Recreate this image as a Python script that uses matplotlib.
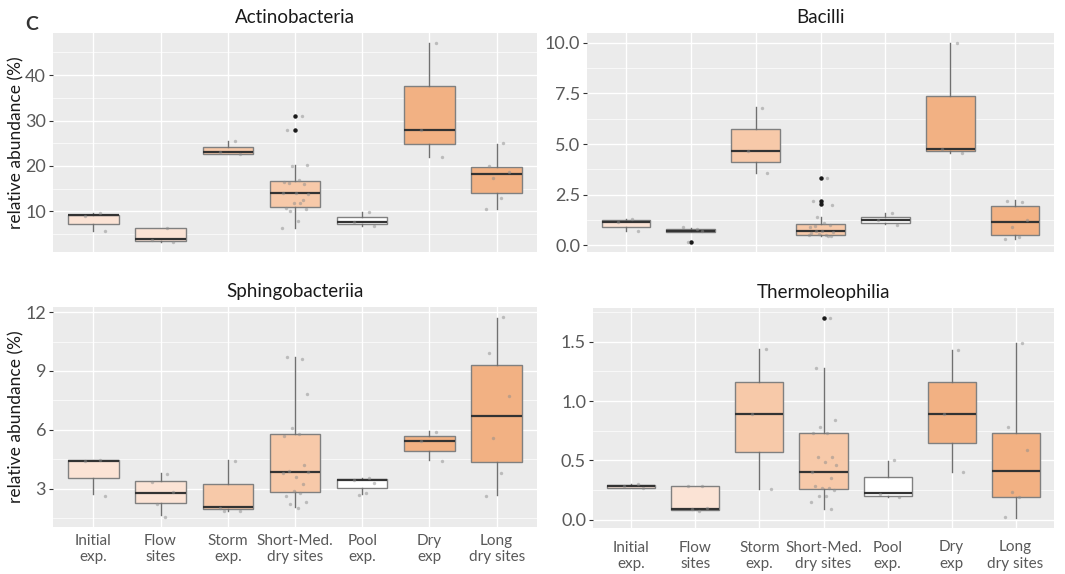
import numpy as np
import matplotlib
matplotlib.use("Agg")
import matplotlib.pyplot as plt
from matplotlib.ticker import MultipleLocator, FormatStrFormatter

plt.rcParams["font.family"] = ["Lato", "DejaVu Sans"]

CATEGORIES = ["Initial\nexp.", "Flow\nsites", "Storm\nexp.", "Short-Med.\ndry sites",
              "Pool\nexp.", "Dry\nexp", "Long\ndry sites"]
FILLS = ["#FBE3D5", "#FBE3D5", "#F7C9A9", "#F7C9A9", "#FFFFFF", "#F2B183", "#F2B183"]

# ---- Actinobacteria ----
ACTINO_LO = [5.7, 3.3, 22.7, 6.3, 6.8, 22.0, 10.5]
ACTINO_Q1 = [7.2, 3.5, 22.65, 11.0, 7.15, 24.85, 14.1]
ACTINO_MED = [9.1, 3.9, 23.1, 14.0, 7.7, 27.85, 18.1]
ACTINO_Q3 = [9.25, 6.25, 24.2, 16.7, 8.7, 37.5, 19.8]
ACTINO_HI = [9.6, 6.3, 25.4, 20.2, 9.9, 47.1, 24.9]
ACTINO_OUT = [[], [], [], [31.0, 27.9], [], [], []]
ACTINO_PTS = [
    [9.6, 8.9, 5.7],
    [6.2, 3.6, 3.2],
    [25.4, 23.0, 22.7],
    [31.0, 27.9, 20.2, 20.0, 16.8, 16.5, 16.0, 16.3, 14.0, 13.7, 14.1, 12.4,
     11.8, 11.7, 10.7, 10.4, 10.0, 7.8, 6.3],
    [9.9, 7.6, 6.8],
    [47.1, 27.9, 22.0],
    [25.0, 20.0, 18.6, 17.4, 13.0, 10.5],
]

# ---- Bacilli ----
BACILLI_LO = [0.71, 0.66, 3.55, 0.45, 1.02, 4.55, 0.30]
BACILLI_Q1 = [0.90, 0.66, 4.10, 0.49, 1.10, 4.66, 0.48]
BACILLI_MED = [1.12, 0.70, 4.67, 0.71, 1.25, 4.77, 1.15]
BACILLI_Q3 = [1.23, 0.79, 5.74, 1.05, 1.40, 7.40, 1.94]
BACILLI_HI = [1.28, 0.86, 6.81, 1.40, 1.61, 10.0, 2.23]
BACILLI_OUT = [[], [0.17], [], [3.30, 2.20, 2.05], [], [], []]
BACILLI_PTS = [
    [1.28, 1.12, 0.71],
    [0.82, 0.88, 0.70, 0.15],
    [6.8, 4.67, 3.55],
    [3.3, 2.2, 2.0, 1.38, 1.1, 0.9, 1.0, 0.95, 0.7, 0.65, 0.5, 0.45, 0.55,
     0.5, 0.6, 0.45, 0.7],
    [1.6, 1.22, 1.0],
    [10.0, 4.75, 4.55],
    [2.15, 2.2, 1.25, 0.9, 0.38, 0.3],
]

# ---- Sphingobacteriia ----
SPHINGO_LO = [2.70, 1.64, 1.85, 2.06, 2.73, 4.44, 2.66]
SPHINGO_Q1 = [3.52, 2.25, 1.94, 2.82, 3.05, 4.93, 4.34]
SPHINGO_MED = [4.41, 2.77, 2.06, 3.82, 3.42, 5.45, 6.69]
SPHINGO_Q3 = [4.44, 3.39, 3.25, 5.80, 3.50, 5.70, 9.32]
SPHINGO_HI = [4.46, 3.79, 4.46, 9.69, 3.55, 5.92, 11.71]
SPHINGO_OUT = [[], [], [], [], [], [], []]
SPHINGO_PTS = [
    [4.45, 4.40, 2.60],
    [3.75, 3.35, 2.8, 2.2, 1.55],
    [4.4, 2.0, 1.85, 1.85],
    [9.6, 9.7, 7.8, 6.1, 5.8, 5.7, 4.2, 3.9, 3.6, 3.85, 3.8, 3.25, 2.9, 2.75,
     2.6, 2.3, 2.2, 2.0],
    [3.55, 3.45, 3.3, 2.65, 2.75],
    [5.9, 5.45, 4.4],
    [11.75, 9.9, 7.7, 5.6, 3.8, 2.6],
]

# ---- Thermoleophilia ----
THERMO_LO = [0.266, 0.079, 0.26, 0.093, 0.19, 0.40, 0.014]
THERMO_Q1 = [0.266, 0.079, 0.573, 0.26, 0.203, 0.644, 0.195]
THERMO_MED = [0.28, 0.093, 0.887, 0.398, 0.226, 0.887, 0.41]
THERMO_Q3 = [0.288, 0.282, 1.164, 0.729, 0.359, 1.158, 0.734]
THERMO_HI = [0.30, 0.282, 1.44, 1.28, 0.494, 1.43, 1.49]
THERMO_OUT = [[], [], [], [1.70], [], [], []]
THERMO_PTS = [
    [0.30, 0.28, 0.27],
    [0.28, 0.28, 0.10, 0.09, 0.07],
    [1.44, 0.89, 0.26],
    [1.70, 1.28, 0.84, 0.78, 0.73, 0.73, 0.53, 0.53, 0.49, 0.46, 0.40, 0.35,
     0.27, 0.27, 0.28, 0.25, 0.20, 0.20, 0.15, 0.09],
    [0.50, 0.22, 0.19],
    [1.43, 0.89, 0.40],
    [1.49, 0.78, 0.59, 0.23, 0.19, 0.02],
]

# fixed jitter pattern (category units), cycled over the points of a group
JITTER = [0.10, -0.12, 0.18, -0.05, 0.06, -0.16, 0.14, -0.09, 0.02, 0.20,
          -0.18, 0.12, -0.02, 0.08, -0.14, 0.16, -0.07, 0.04, -0.20, 0.11]

W, H = 1065, 574


def px_axes(fig, left, top, right, bottom):
    return fig.add_axes([left / W, 1 - bottom / H, (right - left) / W, (bottom - top) / H])


def draw_panel(ax, title, lo, q1, med, q3, hi, outs, pts, major, minor, fmt,
               ylabel=False, xlabels=False, xpad=6):
    stats = []
    for i in range(len(CATEGORIES)):
        stats.append(dict(whislo=lo[i], q1=q1[i], med=med[i], q3=q3[i],
                          whishi=hi[i], fliers=outs[i]))
    pos = np.arange(1, len(CATEGORIES) + 1)
    ax.set_facecolor("#EBEBEB")
    ax.set_axisbelow(True)
    bp = ax.bxp(stats, positions=pos, widths=0.75, patch_artist=True,
                showcaps=False, showfliers=True,
                boxprops=dict(edgecolor="#808080", linewidth=1.0),
                whiskerprops=dict(color="#707070", linewidth=1.0),
                medianprops=dict(color="#333333", linewidth=1.6),
                flierprops=dict(marker="o", markersize=2.2, markerfacecolor="#1a1a1a",
                                markeredgecolor="#1a1a1a"))
    for patch, c in zip(bp["boxes"], FILLS):
        patch.set_facecolor(c)

    for i, vals in enumerate(pts):
        xs = [pos[i] + JITTER[k % len(JITTER)] for k in range(len(vals))]
        ax.scatter(xs, vals, s=6, color="#8c8c8c", alpha=0.5, linewidths=0, zorder=4)

    # ggplot-like 5% expansion of the data range
    allv = [v for g in pts for v in g] + lo + hi
    vmin, vmax = min(allv), max(allv)
    pad = 0.05 * (vmax - vmin)
    ax.set_ylim(vmin - pad, vmax + pad)
    ax.set_xlim(0.4, len(CATEGORIES) + 0.6)

    ax.yaxis.set_major_locator(MultipleLocator(major))
    ax.yaxis.set_minor_locator(MultipleLocator(minor))
    ax.yaxis.set_major_formatter(FormatStrFormatter(fmt))
    ax.grid(which="major", color="white", linewidth=1.0)
    ax.grid(which="minor", axis="y", color="white", linewidth=0.5)
    for s in ax.spines.values():
        s.set_visible(False)
    ax.tick_params(axis="y", which="major", length=3, color="#333333",
                   labelcolor="#595959", labelsize=13, pad=2)
    ax.tick_params(axis="y", which="minor", length=0)
    ax.set_xticks(pos)
    if xlabels:
        ax.set_xticklabels(CATEGORIES, fontsize=11, color="#595959", linespacing=1.2)
        ax.tick_params(axis="x", length=0, pad=xpad)
    else:
        ax.set_xticklabels([])
        ax.tick_params(axis="x", length=0)
    ax.set_title(title, fontsize=13.5, color="#1a1a1a", pad=7)
    if ylabel:
        ax.set_ylabel("relative abundance (%)", fontsize=12.5, color="#1a1a1a")
        ax.yaxis.set_label_coords(-0.058, 0.5)


fig = plt.figure(figsize=(W / 100, H / 100), dpi=100)

ax1 = px_axes(fig, 53, 33, 537, 252)
draw_panel(ax1, "Actinobacteria", ACTINO_LO, ACTINO_Q1, ACTINO_MED, ACTINO_Q3,
           ACTINO_HI, ACTINO_OUT, ACTINO_PTS, 10, 5, "%d", ylabel=True)

ax2 = px_axes(fig, 587, 33, 1054, 252)
draw_panel(ax2, "Bacilli", BACILLI_LO, BACILLI_Q1, BACILLI_MED, BACILLI_Q3,
           BACILLI_HI, BACILLI_OUT, BACILLI_PTS, 2.5, 1.25, "%.1f")

ax3 = px_axes(fig, 53, 307, 537, 527)
draw_panel(ax3, "Sphingobacteriia", SPHINGO_LO, SPHINGO_Q1, SPHINGO_MED, SPHINGO_Q3,
           SPHINGO_HI, SPHINGO_OUT, SPHINGO_PTS, 3, 1.5, "%d", ylabel=True,
           xlabels=True, xpad=5)

ax4 = px_axes(fig, 593, 308, 1054, 528)
draw_panel(ax4, "Thermoleophilia", THERMO_LO, THERMO_Q1, THERMO_MED, THERMO_Q3,
           THERMO_HI, THERMO_OUT, THERMO_PTS, 0.5, 0.25, "%.1f",
           xlabels=True, xpad=9)

fig.text(32 / W, 1 - 25 / H, "C", fontsize=14, color="#333333", ha="center", va="center",
         fontweight="bold")

fig.savefig("out.png", dpi=100)
